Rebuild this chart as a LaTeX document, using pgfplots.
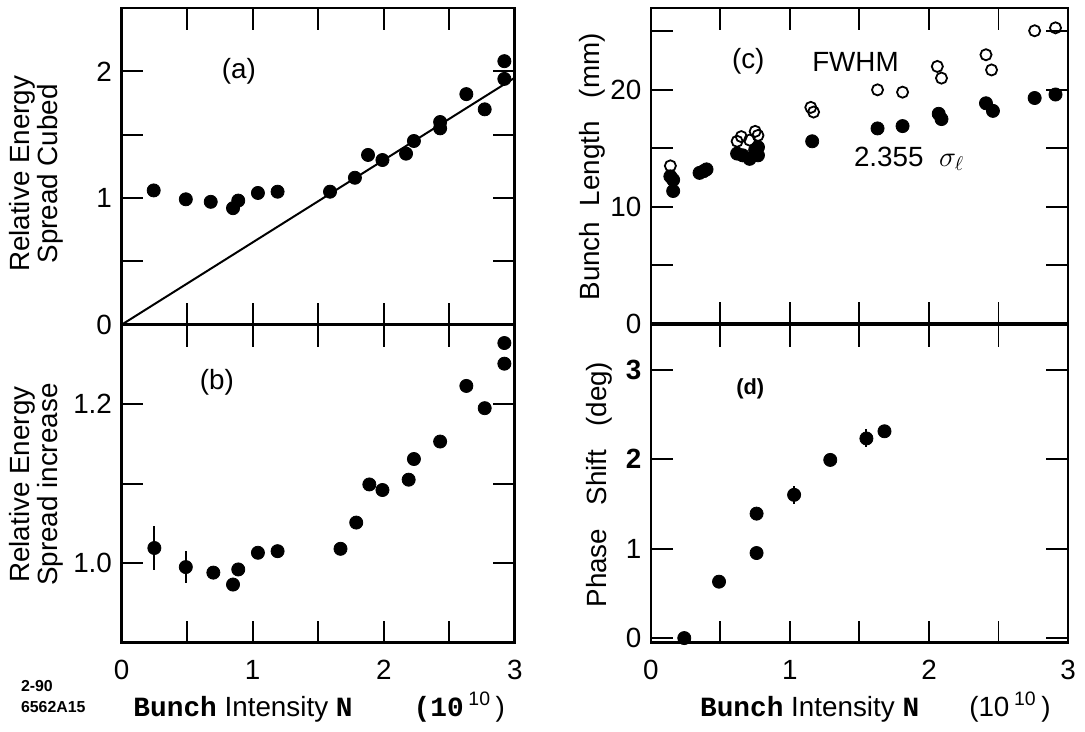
\documentclass[border=0pt]{standalone}
\usepackage{fontspec}
\setmainfont{Liberation Sans}
\setmonofont{Liberation Mono}
\usepackage{pgfplots}
\pgfplotsset{compat=1.18}
\begin{document}
\fontsize{14}{16}\selectfont
\begin{tikzpicture}
\begin{scope}[x=0.5pt,y=-0.5pt]
\useasboundingbox (0,0) rectangle (1085,725);
\end{scope}
\pgfplotsset{
  panel/.style={
    scale only axis, anchor=south west, clip=false,
    axis line style={line width=1.4pt},
    every tick/.style={line width=1pt, black},
    major tick length=11pt, minor tick length=11pt,
    tick align=inside,
    xtick pos=both, ytick pos=both,
    xmin=0, xmax=3,
    xtick={0,1,2,3}, minor xtick={0.5,1.5,2.5},
    /pgf/number format/assume math mode=true,
    tick label style={font=\fontsize{14}{16}\selectfont},
    xticklabel style={yshift=-4pt},
  },
  dot/.style={only marks, mark=*, mark size=3.3pt, black},
  odot/.style={only marks, mark=o, mark size=2.8pt, black, mark options={line width=0.9pt}},
}
% (a)
\begin{axis}[panel, at={(59.5pt,-163.5pt)}, width=198pt, height=159.5pt,
  ymin=0, ymax=2.5, ytick={0,1,2}, minor ytick={0.5,1.5}, xticklabels={}]
\addplot[black, line width=1pt, no marks] coordinates {(0,0) (3,1.95)};
\addplot[dot] coordinates {
(0.245,1.06) (0.49,0.99) (0.68,0.97) (0.85,0.92) (0.89,0.98) (1.04,1.04)
(1.19,1.05) (1.59,1.05) (1.78,1.16) (1.88,1.34) (1.99,1.30) (2.17,1.35)
(2.23,1.45) (2.43,1.55) (2.43,1.60) (2.63,1.82) (2.77,1.70) (2.92,2.08) (2.92,1.94)};
\end{axis}
% (b)
\begin{axis}[panel, at={(59.5pt,-323.5pt)}, width=198pt, height=160pt,
  ymin=0.9, ymax=1.3, ytick={1.0,1.2}, yticklabels={1.0,1.2}, minor ytick={1.1}]
\addplot[only marks, mark=*, mark size=3.3pt, black,
  error bars/.cd, y dir=both, y explicit, error bar style={line width=1pt}, error mark=none]
  coordinates {(0.25,1.019) +- (0,0.028) (0.49,0.995) +- (0,0.02) (0.89,0.992) +- (0,0.008) (1.19,1.015) +- (0,0.008)};
\addplot[dot] coordinates {
(0.70,0.988) (0.85,0.973) (1.04,1.013) (1.67,1.018) (1.79,1.051) (1.89,1.099)
(1.99,1.092) (2.19,1.105) (2.23,1.131) (2.43,1.153) (2.63,1.223) (2.77,1.195)
(2.92,1.251) (2.92,1.277)};
\end{axis}
% (c)
\begin{axis}[panel, at={(326pt,-163pt)}, width=210pt, height=159pt,
  ymin=0, ymax=27, ytick={0,10,20}, minor ytick={5,15,25}, xticklabels={}]
\addplot[odot] coordinates {
(0.14,13.5) (0.62,15.6) (0.65,16.0) (0.71,15.7) (0.75,16.45) (0.77,16.1)
(1.15,18.5) (1.17,18.1) (1.63,20.0) (1.81,19.8) (2.06,22.0) (2.09,21.0)
(2.41,23.0) (2.45,21.7) (2.76,25.05) (2.91,25.3)};
\addplot[dot] coordinates {
(0.14,12.6) (0.16,12.3) (0.16,11.35) (0.35,12.9) (0.40,13.2) (0.38,13.05)
(0.62,14.55) (0.66,14.4) (0.71,14.1) (0.77,14.4) (0.77,15.1) (0.75,14.85)
(1.16,15.6) (1.63,16.7) (1.81,16.9) (2.07,17.95) (2.09,17.5) (2.41,18.85)
(2.46,18.2) (2.76,19.3) (2.91,19.6)};
\end{axis}
% (d)
\begin{axis}[panel, at={(326pt,-323.5pt)}, width=210pt, height=160pt,
  ymin=-0.05, ymax=3.5, ytick={0,1,2,3}, yticklabels={0,1,\textbf{2},\textbf{3}}]
\addplot[only marks, mark=*, mark size=3.3pt, black,
  error bars/.cd, y dir=both, y explicit, error bar style={line width=1pt}, error mark=none]
  coordinates {(1.03,1.60) +- (0,0.1) (1.55,2.23) +- (0,0.1)};
\addplot[dot] coordinates {
(0.24,0.0) (0.49,0.63) (0.76,0.95) (0.76,1.39) (1.29,1.99) (1.68,2.31)};
\end{axis}
\begin{scope}[x=0.5pt,y=-0.5pt]
\node at (237,72) {(a)};
\node at (215,385) {(b)};
\node at (750,62) {(c)};
\node at (858,62) {FWHM};
\node at (912,160) {2.355\ \ $\sigma_\ell$};
\node[font=\bfseries\fontsize{11}{12}\selectfont] at (752,392) {(d)};
\node[rotate=90, align=center, font=\fontsize{14}{12.5}\selectfont] at (33,175) {Relative Energy\\Spread Cubed};
\node[rotate=90, align=center, font=\fontsize{14}{12.5}\selectfont] at (33,488) {Relative Energy\\Spread increase};
\node[rotate=90] at (593,168) {Bunch\ \ Length\ \ \ (mm)};
\node[rotate=90] at (600,488) {Phase\ \ \ Shift\ \ \ (deg)};
\node at (318,712) {\texttt{\textbf{Bunch}} Intensity \texttt{\textbf{N}}\hspace{2.2em}\texttt{\textbf{(10}}\,\textsuperscript{10}\,)};
\node at (878,712) {\texttt{\textbf{Bunch}} Intensity \texttt{\textbf{N}}\hspace{1.8em}(10\,\textsuperscript{10}\,)};
\node[font=\bfseries\fontsize{8}{9}\selectfont, anchor=west] at (8,691) {2-90};
\node[font=\bfseries\fontsize{8}{9}\selectfont, anchor=west] at (8,712) {6562A15};
\end{scope}
\end{tikzpicture}
\end{document}
